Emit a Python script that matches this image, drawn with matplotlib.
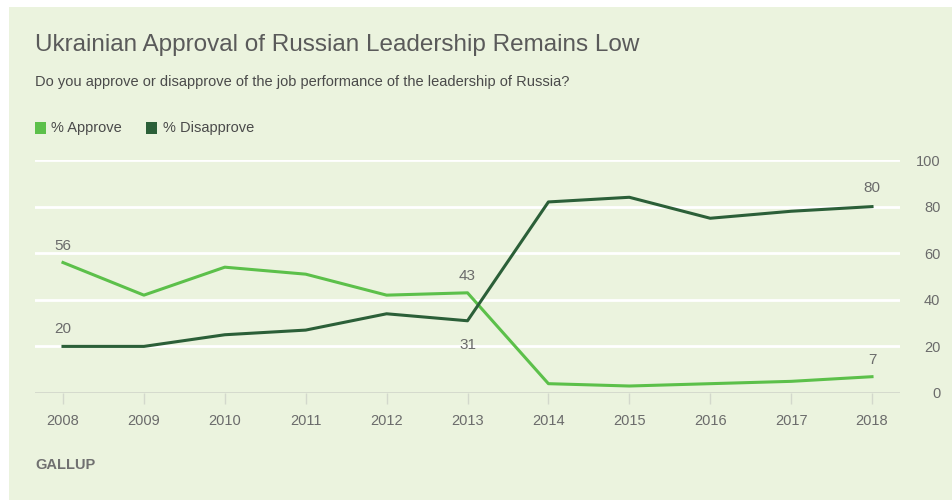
import matplotlib.pyplot as plt
import matplotlib.patches as mpatches
import matplotlib.transforms as mtransforms

years = [2008, 2009, 2010, 2011, 2012, 2013, 2014, 2015, 2016, 2017, 2018]
approve = [56, 42, 54, 51, 42, 43, 4, 3, 4, 5, 7]
disapprove = [20, 20, 25, 27, 34, 31, 82, 84, 75, 78, 80]
yticks = [0, 20, 40, 60, 80, 100]

# which points get a value label: (year index, offset in px above/below)
approve_labels = [(0, 17), (5, 17), (10, 17)]
disapprove_labels = [(0, 17), (5, -24), (10, 19)]

bg = '#ebf3de'
c_app = '#5cc04a'
c_dis = '#2b5f38'
txt = '#6b6b6b'
sans = ['Liberation Sans', 'DejaVu Sans']

W, H = 953, 500
fig = plt.figure(figsize=(W / 100, H / 100), dpi=100)
fig.patch.set_facecolor('white')
fig.add_artist(mpatches.Rectangle((9 / W, 0), 1, 1 - 7 / H, transform=fig.transFigure,
                                  facecolor=bg, edgecolor='none', zorder=-10))

ax = fig.add_axes([35 / W, 107 / H, 865 / W, 233 / H])
ax.patch.set_alpha(0)
for s in ax.spines.values():
    s.set_visible(False)

ax.set_xlim(2007.654, 2018.346)
ax.set_ylim(0, 100)

for y in yticks[1:]:
    ax.axhline(y, color='white', lw=2, zorder=1)
ax.axhline(0, color='#d3d8cc', lw=2, zorder=1)

ax.plot(years, approve, color=c_app, lw=2.2, zorder=3, solid_joinstyle='round')
ax.plot(years, disapprove, color=c_dis, lw=2.2, zorder=3, solid_joinstyle='round')

def label(series, idx, dy):
    off = mtransforms.offset_copy(ax.transData, fig=fig, x=0, y=dy, units='dots')
    ax.text(years[idx], series[idx], str(series[idx]), transform=off, ha='center',
            va='center', fontsize=11, color=txt, family=sans, clip_on=False)

for i, d in approve_labels:
    label(approve, i, d)
for i, d in disapprove_labels:
    label(disapprove, i, d)

ax.set_xticks(years)
ax.set_xticklabels([str(y) for y in years], family=sans, fontsize=10.5, color=txt)
ax.tick_params(axis='x', length=8, width=1, color='#d3d8cc', pad=7, direction='out')

ax.yaxis.tick_right()
ax.set_yticks(yticks)
ax.set_yticklabels([str(y) for y in yticks], family=sans, fontsize=10.5, color=txt)
ax.tick_params(axis='y', length=0, pad=29)
for t in ax.get_yticklabels():
    t.set_horizontalalignment('right')

fig.text(35 / W, 1 - 45 / H, 'Ukrainian Approval of Russian Leadership Remains Low',
         family=sans, fontsize=17.5, color='#5a5a5a', va='center', ha='left')
fig.text(35 / W, 1 - 82 / H, 'Do you approve or disapprove of the job performance of the leadership of Russia?',
         family=sans, fontsize=10.5, color='#4a4a4a', va='center', ha='left')

fig.add_artist(mpatches.Rectangle((35 / W, 1 - 134 / H), 11 / W, 12 / H,
                                  transform=fig.transFigure, facecolor=c_app, edgecolor='none'))
fig.text(51 / W, 1 - 128 / H, '% Approve', family=sans, fontsize=10.5, color='#4a4a4a', va='center')
fig.add_artist(mpatches.Rectangle((146 / W, 1 - 134 / H), 11 / W, 12 / H,
                                  transform=fig.transFigure, facecolor=c_dis, edgecolor='none'))
fig.text(163 / W, 1 - 128 / H, '% Disapprove', family=sans, fontsize=10.5, color='#4a4a4a', va='center')

fig.text(35 / W, 1 - 465 / H, 'GALLUP', family=sans, fontsize=10.5, fontweight='bold',
         color='#707070', va='center')

fig.savefig('out.png', dpi=100, facecolor=fig.get_facecolor())
